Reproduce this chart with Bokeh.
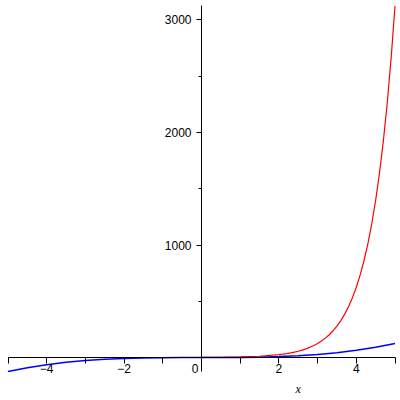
from bokeh.plotting import figure
from bokeh.models import Range1d, LinearAxis, FixedTicker, Label
from bokeh.embed import file_html
from bokeh.resources import INLINE

# red curve
red_x = [-5, -4, -3, -2, -1, 0, 0.5, 1, 1.5,
         2.0, 2.1, 2.2, 2.3, 2.4, 2.5, 2.6, 2.7, 2.8, 2.9,
         3.0, 3.1, 3.2, 3.3, 3.4, 3.5, 3.6, 3.7, 3.8, 3.9,
         4.0, 4.1, 4.2, 4.3, 4.4, 4.5, 4.6, 4.7, 4.8, 4.9, 5.0]
red_y = [0, 0, 0.01, 0.04, 0.2, 1, 2.2, 5, 11.2,
         25, 29.4, 34.5, 40.5, 47.6, 55.9, 65.7, 77.1, 90.6, 106.4,
         125, 146.8, 172.5, 202.6, 238.0, 279.5, 328.3, 385.7, 453.0, 532.1,
         625, 734.1, 862.3, 1012.9, 1189.8, 1397.5, 1641.6, 1928.2, 2264.9, 2660.4, 3125]

# blue curve
blue_x = [-5, -4.5, -4, -3.5, -3, -2.5, -2, -1.5, -1, -0.5, 0,
          0.5, 1, 1.5, 2, 2.5, 3, 3.5, 4, 4.5, 5]
blue_y = [-125, -91.1, -64, -42.9, -27, -15.6, -8, -3.4, -1, -0.1, 0,
          0.1, 1, 3.4, 8, 15.6, 27, 42.9, 64, 91.1, 125]

x_major = [-4, -2, 2, 4]
x_labels = ["\u22124", "\u22122", "2", "4"]
x_minor = [-5, -3, -1, 1, 3, 5]
y_major = [1000, 2000, 3000]
y_labels = ["1000", "2000", "3000"]
y_minor = [500, 1500, 2500]

p = figure(width=400, height=400, x_range=Range1d(-5.194, 5.142), y_range=Range1d(-382, 3173),
           output_backend="svg", toolbar_location=None, min_border=0,
           x_axis_location=None, y_axis_location=None, outline_line_color=None)
p.xgrid.visible = False
p.ygrid.visible = False

p.line(red_x, red_y, line_color="#ff0000", line_width=1.2)
p.line(blue_x, blue_y, line_color="#0000ff", line_width=1.5)

font = "Liberation Sans"

xa = LinearAxis(fixed_location=0, bounds=(-5, 5),
                ticker=FixedTicker(ticks=x_major, minor_ticks=x_minor))
xa.major_label_overrides = {t: l for t, l in zip(x_major, x_labels)}
xa.major_tick_out = 6
xa.major_tick_in = 0
xa.minor_tick_out = 6
xa.minor_tick_in = 0
xa.major_label_standoff = 0
xa.major_label_text_font = font
xa.major_label_text_font_size = "12px"
xa.major_label_text_color = "black"
xa.axis_line_color = "black"
p.add_layout(xa, "below")

ya = LinearAxis(fixed_location=0, bounds=(-125, 3125),
                ticker=FixedTicker(ticks=y_major, minor_ticks=y_minor))
ya.major_label_overrides = {t: l for t, l in zip(y_major, y_labels)}
ya.major_tick_out = 5
ya.major_tick_in = 0
ya.minor_tick_out = 3
ya.minor_tick_in = 0
ya.major_label_standoff = 5
ya.major_label_orientation = "horizontal"
ya.major_label_text_font = font
ya.major_label_text_font_size = "12px"
ya.major_label_text_color = "black"
ya.axis_line_color = "black"
p.add_layout(ya, "left")

p.add_layout(Label(x=0, y=0, text="0", x_offset=-3, y_offset=-6,
                   text_align="right", text_baseline="top",
                   text_font=font, text_font_size="12px", text_color="black"))
p.add_layout(Label(x=2.5, y=0, text="x", y_offset=-31,
                   text_align="center", text_baseline="middle",
                   text_font="Liberation Serif", text_font_style="italic",
                   text_font_size="12px", text_color="black"))

open("out.html", "w").write(file_html(p, INLINE))
